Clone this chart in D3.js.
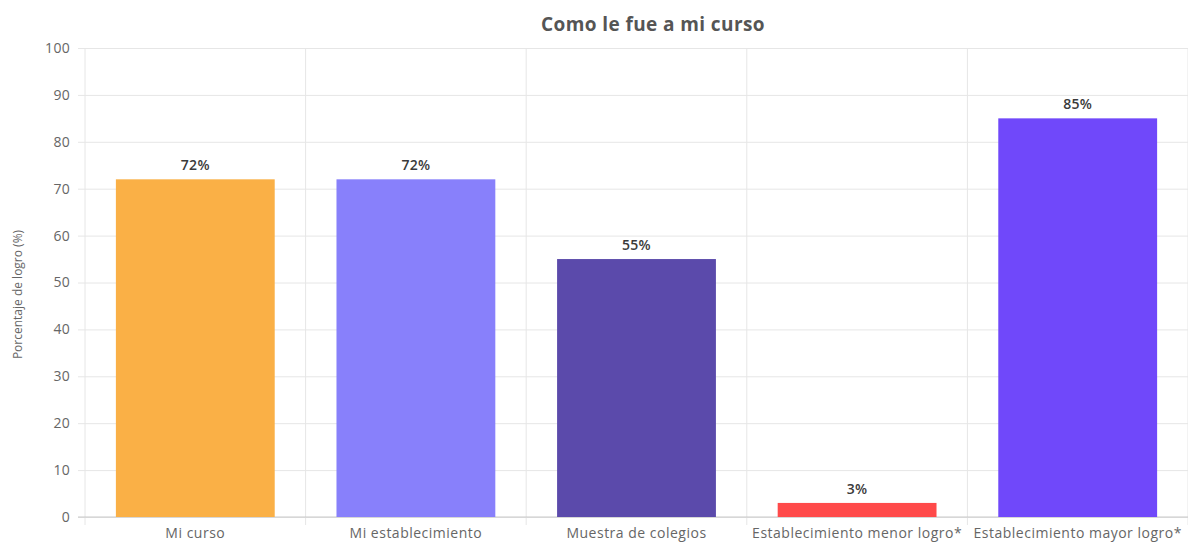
<!DOCTYPE html>
<html lang="es">
<head>
<meta charset="utf-8">
<title>Como le fue a mi curso</title>
<script src="https://cdn.jsdelivr.net/npm/d3@7"></script>
<style>
  body { margin: 0; background: #fff; font-family: "Open Sans", "Liberation Sans", Arial, sans-serif; }
  .grid line { stroke: #e6e6e6; }
  .grid path { display: none; }
  .yax text, .xax text { fill: #666; font-family: "Open Sans", sans-serif; }
</style>
</head>
<body>
<script>
// datos
var categorias = ["Mi curso", "Mi establecimiento", "Muestra de colegios", "Establecimiento menor logro*", "Establecimiento mayor logro*"];
var valores = [72, 72, 55, 3, 85];
var colores = ["#fab046", "#8880fb", "#5b4aab", "#ff4a4a", "#7048fa"];
var yTicks = [0, 10, 20, 30, 40, 50, 60, 70, 80, 90, 100];

var w = 1188, h = 542;
var m = {top: 48, right: 0, bottom: 25, left: 85};

var svg = d3.select("body").append("svg")
  .attr("width", w).attr("height", h);

var x = d3.scaleBand()
  .domain(categorias)
  .range([m.left, w - m.right])
  .paddingInner(0.28)
  .paddingOuter(0.14);

var y = d3.scaleLinear()
  .domain([0, 100])
  .range([h - m.bottom, m.top]);

var step = x.step();

// vertical grid lines (category separators)
var seps = d3.range(categorias.length + 1);
svg.selectAll("line.vg").data(seps).enter().append("line")
  .attr("class", "vg")
  .attr("x1", function(i) { return m.left + i * step; })
  .attr("x2", function(i) { return m.left + i * step; })
  .attr("y1", y(100))
  .attr("y2", y(0) + 8)
  .attr("stroke", "#e6e6e6");

// horizontal grid
svg.append("g")
  .attr("class", "grid")
  .attr("transform", "translate(" + m.left + ",0)")
  .call(d3.axisLeft(y).tickValues(yTicks).tickSize(-(w - m.left - m.right)).tickFormat(""));

// y axis labels
var yax = svg.append("g")
  .attr("class", "yax")
  .attr("transform", "translate(" + m.left + ",0)")
  .call(d3.axisLeft(y).tickValues(yTicks).tickSize(7).tickPadding(8));
yax.select(".domain").remove();
yax.selectAll("line").attr("stroke", "#e6e6e6");
yax.selectAll("text").style("font-size", "14px").style("letter-spacing", "0.3px");

// zero line
svg.append("line")
  .attr("x1", m.left - 7).attr("x2", w)
  .attr("y1", y(0)).attr("y2", y(0))
  .attr("stroke", "#c8c8c8");

// bars
svg.selectAll("rect.bar").data(valores).enter().append("rect")
  .attr("class", "bar")
  .attr("x", function(d, i) { return x(categorias[i]); })
  .attr("width", x.bandwidth())
  .attr("y", function(d) { return y(d); })
  .attr("height", function(d) { return y(0) - y(d); })
  .attr("fill", function(d, i) { return colores[i]; });

// value labels
svg.selectAll("text.val").data(valores).enter().append("text")
  .attr("class", "val")
  .attr("x", function(d, i) { return x(categorias[i]) + x.bandwidth() / 2; })
  .attr("y", function(d) { return y(d) - 9; })
  .attr("text-anchor", "middle")
  .style("font-size", "14px")
  .style("font-weight", "600")
  .style("letter-spacing", "0.3px")
  .attr("fill", "#3a3a3a")
  .text(function(d) { return d + "%"; });

// x labels
var xax = svg.append("g")
  .attr("class", "xax")
  .attr("transform", "translate(0," + y(0) + ")")
  .call(d3.axisBottom(x).tickSize(0).tickPadding(11));
xax.select(".domain").remove();
xax.selectAll("text").style("font-size", "14px").style("letter-spacing", "0.5px");

// y title
svg.append("text")
  .attr("transform", "translate(22," + ((y(0) + y(100)) / 2 + 12) + ") rotate(-90)")
  .attr("text-anchor", "middle")
  .style("font-size", "12px")
  .attr("fill", "#666")
  .text("Porcentaje de logro (%)");

// title
svg.append("text")
  .attr("x", 653).attr("y", 31)
  .attr("text-anchor", "middle")
  .style("font-size", "19px")
  .style("font-weight", "bold")
  .style("letter-spacing", "0.4px")
  .attr("fill", "#555")
  .text("Como le fue a mi curso");
</script>
</body>
</html>
